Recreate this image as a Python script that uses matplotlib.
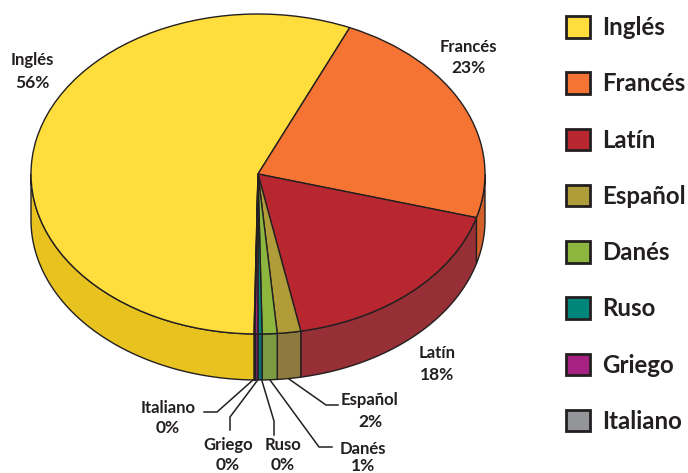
import numpy as np
import matplotlib
matplotlib.use("Agg")
import matplotlib.pyplot as plt
from matplotlib.patches import Patch

languages = ["Inglés", "Francés", "Latín", "Español", "Danés", "Ruso", "Griego", "Italiano"]
shares = [56.4, 22.8, 17.6, 1.67, 1.06, 0.3, 0.22, 0.05]
labels_pct = ["56%", "23%", "18%", "2%", "1%", "0%", "0%", "0%"]
top_colors = ["#FFDD3C", "#F57333", "#B8272F", "#B09C38", "#8DB63F", "#00857A", "#A62182", "#939598"]
side_colors = ["#E8C320", "#D2602A", "#962F36", "#8E7A3E", "#7C9A42", "#0A6F70", "#8A2470", "#77787B"]

W, H = 688, 473
CX, CY, RX, RY, DEPTH = 258, 174, 227, 160, 46
INK = "#231F20"
plt.rcParams["font.family"] = ["Lato", "DejaVu Sans"]

fig = plt.figure(figsize=(W / 100, H / 100), dpi=100)
ax = fig.add_axes([0, 0, 1, 1], zorder=1)
wedges, _ = ax.pie(shares, colors=top_colors, startangle=269, counterclock=False,
                   wedgeprops=dict(edgecolor=INK, linewidth=1.0, zorder=5))
ax.set_aspect("auto")
ax.set_xlim(-CX / RX, (W - CX) / RX)
ax.set_ylim((CY - H) / RY, CY / RY)
ax.axis("off")

d = DEPTH / RY
for w, c in zip(wedges, side_colors):
    a0, a1 = w.theta1 % 360, w.theta2 % 360
    if a1 <= a0:
        a1 += 360
    for lo, hi in ((a0, a1), (a0 - 360, a1 - 360)):
        lo2, hi2 = max(lo, 180), min(hi, 360)
        if hi2 > lo2:
            t = np.radians(np.linspace(lo2, hi2, 120))
            x = np.cos(t)
            y = np.sin(t)
            ax.fill(np.r_[x, x[::-1]], np.r_[y, y[::-1] - d], facecolor=c,
                    edgecolor=INK, linewidth=1.0, zorder=2)

ov = fig.add_axes([0, 0, 1, 1], zorder=2)
ov.set_xlim(0, W)
ov.set_ylim(H, 0)
ov.axis("off")
ov.patch.set_alpha(0)

leaders = {
    "Italiano": ([204, 217, 253], [412, 412, 380]),
    "Griego": ([230, 230, 257], [430, 417, 381]),
    "Ruso": ([274, 274, 262], [435, 421, 381]),
    "Danés": ([332, 319, 270], [447, 447, 380]),
    "Español": ([338, 326, 289], [405, 405, 379]),
}
for xs, ys in leaders.values():
    ov.plot(xs, ys, color=INK, lw=1.1, solid_joinstyle="miter")

label_pos = {
    "Inglés": (32, 60, 83), "Francés": (468, 47, 68), "Latín": (437, 353, 375),
    "Español": (370, 400, 422), "Danés": (363, 449, 466), "Ruso": (283, 445, 465),
    "Griego": (228, 445, 465), "Italiano": (168, 408, 428),
}
for name, pct in zip(languages, labels_pct):
    x, y1, y2 = label_pos[name]
    ov.text(x, y1, name, ha="center", va="center", fontsize=12, color=INK, fontweight="bold", clip_on=False)
    ov.text(x, y2, pct, ha="center", va="center", fontsize=12.5, color=INK, fontweight="bold", clip_on=False)

handles = [Patch(facecolor=c, edgecolor=INK, linewidth=2, label=n) for c, n in zip(top_colors, languages)]
fs = 17.3
leg = ov.legend(handles=handles, loc="upper left", bbox_to_anchor=(566 / W, 1 - 16 / H),
                bbox_transform=ov.transAxes, frameon=False, borderpad=0, borderaxespad=0,
                handlelength=1.0, handleheight=1.0, handletextpad=0.52,
                labelspacing=1.385, prop=dict(family="Lato", size=fs, weight="bold"))
for t in leg.get_texts():
    t.set_color(INK)

fig.savefig("out.png", dpi=100)
